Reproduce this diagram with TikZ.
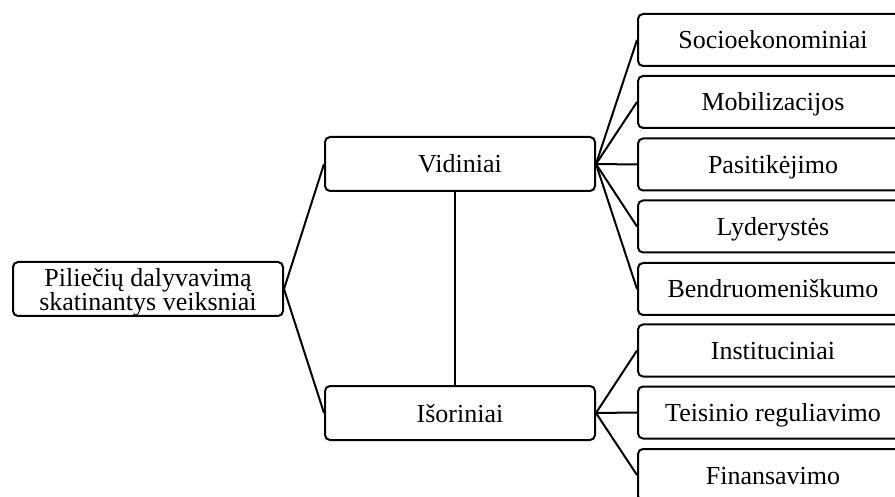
\documentclass[tikz,border=0pt]{standalone}
\usepackage{fontspec}
\setmainfont{Liberation Serif}
\begin{document}
\begin{tikzpicture}[x=1pt,y=-1pt,
  box/.style={draw=black, line width=2pt, rounded corners=5pt, minimum width=270pt,
    inner sep=0pt, font=\fontsize{26}{24.5}\selectfont},
  one/.style={box, minimum height=52pt, text height=18pt, text depth=0pt},
  mid/.style={box, minimum height=54pt, text height=18pt, text depth=0pt},
  conn/.style={line width=2pt}]
\useasboundingbox (0,0) rectangle (895,497);
\clip (0,0) rectangle (895,497);
\node[box, minimum height=54pt] (L) at (148,289) {};
\node[align=center, inner sep=0pt, font=\fontsize{26}{24.5}\selectfont] (Lt) at (148,292.5) {Piliečių dalyvavimą\\skatinantys veiksniai};
\node[mid] (V) at (460,164) {Vidiniai};
\node[mid] (I) at (460,413) {Išoriniai};
\node[one] (r1) at (773,40) {Socioekonominiai};
\node[one] (r2) at (773,102) {Mobilizacijos};
\node[one] (r3) at (773,164.5) {Pasitikėjimo};
\node[one] (r4) at (773,226.5) {Lyderystės};
\node[one] (r5) at (773,289) {Bendruomeniškumo};
\node[one] (r6) at (773,350.5) {Instituciniai};
\node[one] (r7) at (773,412.5) {Teisinio reguliavimo};
\node[one] (r8) at (773,475) {Finansavimo};
\draw[conn] (L.east) -- (V.west);
\draw[conn] (L.east) -- (I.west);
\draw[conn] ([xshift=-5pt]V.south) -- ([xshift=-5pt]I.north);
\foreach \r in {r1,r2,r3,r4,r5} \draw[conn] (V.east) -- (\r.west);
\foreach \r in {r6,r7,r8} \draw[conn] (I.east) -- (\r.west);
\end{tikzpicture}
\end{document}
